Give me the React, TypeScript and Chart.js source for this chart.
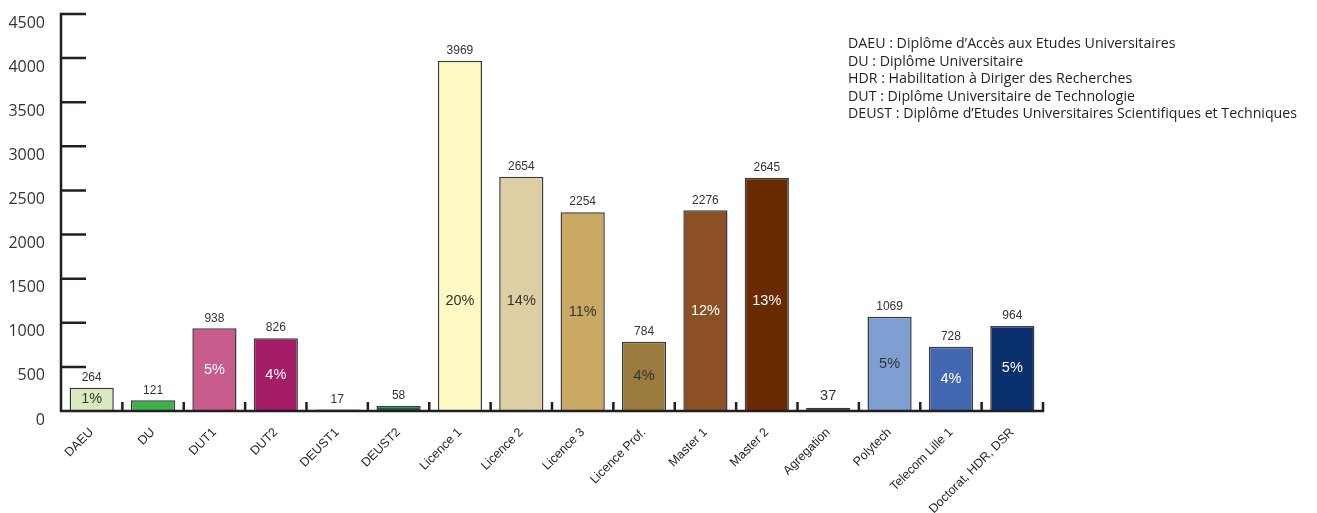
import React, { useEffect, useRef } from "react";
import { Chart, registerables } from "chart.js";

Chart.register(...registerables);

const categories = [
  "DAEU", "DU", "DUT1", "DUT2", "DEUST1", "DEUST2", "Licence 1", "Licence 2",
  "Licence 3", "Licence Prof.", "Master 1", "Master 2", "Agregation", "Polytech",
  "Telecom Lille 1", "Doctorat, HDR, DSR",
];
const counts = [264, 121, 938, 826, 17, 58, 3969, 2654, 2254, 784, 2276, 2645, 37, 1069, 728, 964];
const percents = ["1%", "", "5%", "4%", "", "", "20%", "14%", "11%", "4%", "12%", "13%", "", "5%", "4%", "5%"];
const yTicks = [0, 500, 1000, 1500, 2000, 2500, 3000, 3500, 4000, 4500];
const yTickLabels = ["0", "500", "1000", "1500", "2000", "2500", "3000", "3500", "4000", "4500"];
const glossary = [
  "DAEU : Diplôme d’Accès aux Etudes Universitaires",
  "DU : Diplôme Universitaire",
  "HDR : Habilitation à Diriger des Recherches",
  "DUT : Diplôme Universitaire de Technologie",
  "DEUST : Diplôme d’Etudes Universitaires Scientifiques et Techniques",
];

const barColors = [
  "#d9eabf", "#3bb34a", "#c75c8d", "#a41c65", "#231f20", "#0b6a36", "#fef8c3", "#ddcfa3",
  "#c9a963", "#9b7a3e", "#8b5124", "#682a00", "#231f20", "#7f9fd3", "#4268b1", "#0b306e",
];
const pctColors = [
  "#333333", "#ffffff", "#ffffff", "#ffffff", "#ffffff", "#ffffff", "#333333", "#333333",
  "#333333", "#333333", "#ffffff", "#ffffff", "#ffffff", "#333333", "#ffffff", "#ffffff",
];

const AXIS = "#231f20";

const overlay = {
  id: "overlay",
  afterDatasetsDraw(chart: any) {
    const ctx = chart.ctx as CanvasRenderingContext2D;
    const xs = chart.scales.x;
    const ys = chart.scales.y;
    const area = chart.chartArea;
    const meta = chart.getDatasetMeta(0);
    ctx.save();

    // axes lines and ticks
    ctx.strokeStyle = AXIS;
    ctx.lineWidth = 2.5;
    ctx.beginPath();
    ctx.moveTo(area.left, area.top - 1.25);
    ctx.lineTo(area.left, area.bottom + 1.25);
    ctx.moveTo(area.left - 1.25, area.bottom);
    ctx.lineTo(area.right + 1.25, area.bottom);
    for (const v of yTicks) {
      const py = ys.getPixelForValue(v);
      ctx.moveTo(area.left, py);
      ctx.lineTo(area.left + 25, py);
    }
    for (let i = 0; i < categories.length; i++) {
      const px = xs.getPixelForValue(i + 0.5);
      ctx.moveTo(px, area.bottom);
      ctx.lineTo(px, area.bottom - 9);
    }
    ctx.stroke();

    // value labels
    ctx.textAlign = "center";
    ctx.textBaseline = "middle";
    meta.data.forEach((bar: any, i: number) => {
      const big = categories[i] === "Agregation";
      ctx.font = `${big ? 14.5 : 12}px "Liberation Sans", Arial, sans-serif`;
      ctx.fillStyle = "#333333";
      ctx.fillText(String(counts[i]), bar.x, bar.y - (big ? 12 : 10));
      if (percents[i]) {
        ctx.font = `14.5px "Liberation Sans", Arial, sans-serif`;
        ctx.fillStyle = pctColors[i];
        const py = ys.getPixelForValue(Math.min(counts[i] / 2, 1250));
        ctx.fillText(percents[i], bar.x, py);
      }
    });

    // glossary
    ctx.textAlign = "left";
    ctx.fillStyle = "#231f20";
    ctx.font = `14.2px "Open Sans", sans-serif`;
    glossary.forEach((line, i) => {
      ctx.fillText(line, 848, 44 + i * 17.6);
    });
    ctx.restore();
  },
};

export default function App() {
  const ref = useRef<HTMLCanvasElement | null>(null);
  useEffect(() => {
    if (!ref.current) return;
    const chart = new Chart(ref.current, {
      type: "bar",
      data: {
        labels: categories,
        datasets: [
          {
            data: counts,
            backgroundColor: barColors,
            borderColor: "#3a3a3a",
            borderWidth: 1.5,
            barPercentage: 0.72,
            categoryPercentage: 1,
          },
        ],
      },
      options: {
        responsive: false,
        animation: false,
        layout: { padding: { top: 14, right: 274, left: 0, bottom: 0 } },
        plugins: { legend: { display: false }, tooltip: { enabled: false } },
        scales: {
          x: {
            offset: true,
            grid: { display: false, drawTicks: false },
            border: { display: false },
            ticks: {
              autoSkip: false,
              minRotation: 45,
              maxRotation: 45,
              padding: 14,
              color: "#231f20",
              font: { family: '"Liberation Sans", Arial, sans-serif', size: 12.5 },
            },
            afterFit: (s: any) => {
              s.height = 102;
              s.paddingLeft = 0;
              s.paddingRight = 0;
            },
          },
          y: {
            min: 0,
            max: 4500,
            grid: { display: false, drawTicks: false },
            border: { display: false },
            afterBuildTicks: (s: any) => {
              s.ticks = yTicks.map((v) => ({ value: v }));
            },
            ticks: {
              padding: 16,
              labelOffset: 9,
              color: "#333333",
              font: { family: '"Open Sans", sans-serif', size: 16 },
              callback: (_v: any, i: number) => yTickLabels[i],
            },
            afterFit: (s: any) => {
              s.width = 61;
              s.paddingTop = 0;
              s.paddingBottom = 0;
            },
          },
        },
      },
      plugins: [overlay],
    });
    return () => chart.destroy();
  }, []);
  return (
    <div style={{ position: "absolute", left: 0, top: 0, width: 1317, height: 513, background: "#fff" }}>
      <canvas ref={ref} width={1317} height={513} />
    </div>
  );
}
